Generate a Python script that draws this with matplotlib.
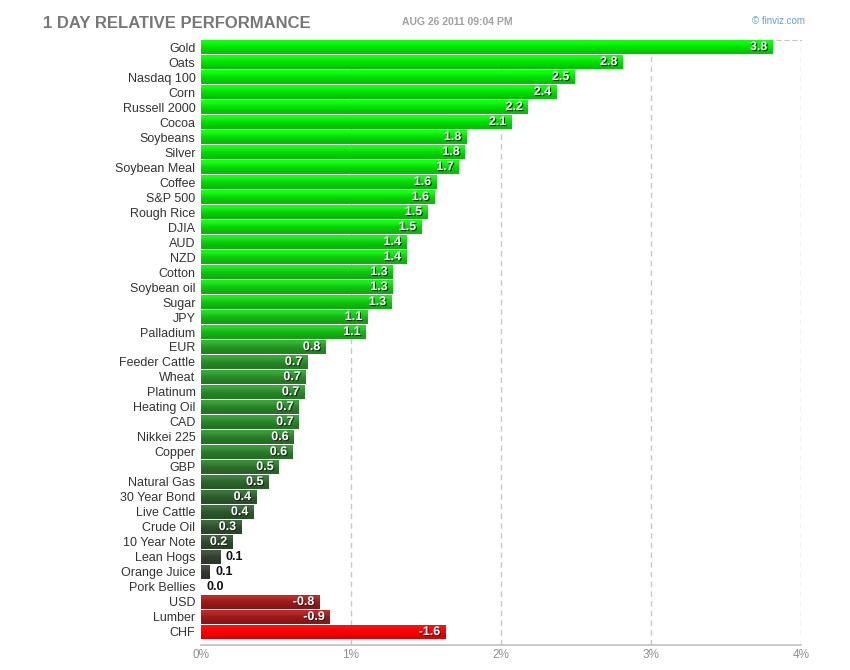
import matplotlib
matplotlib.use("Agg")
import matplotlib.pyplot as plt
import matplotlib.patheffects as pe
import numpy as np

categories = ["Gold", "Oats", "Nasdaq 100", "Corn", "Russell 2000", "Cocoa", "Soybeans",
              "Silver", "Soybean Meal", "Coffee", "S&P 500", "Rough Rice", "DJIA", "AUD",
              "NZD", "Cotton", "Soybean oil", "Sugar", "JPY", "Palladium", "EUR",
              "Feeder Cattle", "Wheat", "Platinum", "Heating Oil", "CAD", "Nikkei 225",
              "Copper", "GBP", "Natural Gas", "30 Year Bond", "Live Cattle", "Crude Oil",
              "10 Year Note", "Lean Hogs", "Orange Juice", "Pork Bellies", "USD", "Lumber", "CHF"]
values = [3.81, 2.81, 2.49, 2.37, 2.18, 2.07, 1.77, 1.76, 1.72, 1.57, 1.556, 1.51, 1.47,
          1.37, 1.37, 1.28, 1.28, 1.27, 1.11, 1.10, 0.83, 0.71, 0.70, 0.69, 0.652, 0.652,
          0.62, 0.61, 0.52, 0.452, 0.37, 0.352, 0.27, 0.21, 0.13, 0.06, 0.0,
          -0.79, -0.86, -1.63]
xticks = [0, 1, 2, 3, 4]
xtick_labels = ["0%", "1%", "2%", "3%", "4%"]

def hx(s):
    return np.array([int(s[i:i + 2], 16) for i in (1, 3, 5)]) / 255.0

pos_stops = [(0.0, "#303430"), (0.1, "#323c32"), (0.2, "#2e4a2e"), (0.4, "#2c5e2c"),
             (0.5, "#2c6c2c"), (0.7, "#288a28"), (0.85, "#229822"), (1.1, "#16b616"),
             (1.3, "#10c810"), (1.6, "#08d808"), (2.5, "#02e002"), (4.0, "#00e400")]

def bar_color(v):
    if v < 0:
        if v <= -1.2:
            return hx("#f80000")
        return hx("#9c1a1a")
    xs = [s[0] for s in pos_stops]
    cols = np.array([hx(s[1]) for s in pos_stops])
    return np.array([np.interp(v, xs, cols[:, k]) for k in range(3)])

fig = plt.figure(figsize=(8.5, 6.7), dpi=100)
ax = fig.add_axes([201 / 850, 1 - 645 / 670, 600 / 850, 605 / 670])

n = len(categories)
ypos = np.arange(n)
mags = np.abs(values)
colors = [bar_color(v) for v in values]
bars = ax.barh(ypos, mags, height=0.9, color=colors, zorder=3, linewidth=0)

# vertical gradient overlay (lighter top, darker bottom)
for b, c in zip(bars, colors):
    x0, y0 = b.get_x(), b.get_y()
    w, h = b.get_width(), b.get_height()
    if w <= 0:
        continue
    top = np.clip(c * 1.12 + 0.05, 0, 1)
    bot = np.clip(c * 0.88, 0, 1)
    grad = np.array([[top], [c], [bot]]).reshape(3, 1, 3)
    im = ax.imshow(grad, extent=(x0, x0 + w, y0 + h, y0), aspect="auto",
                   interpolation="bilinear", zorder=4)
    im.set_clip_path(b)

for i, (v, m) in enumerate(zip(values, mags)):
    lab = f"{v:.1f}"
    if m >= 0.18:
        ax.text(m - 0.035, i, lab, ha="right", va="center", color="white",
                fontsize=9, fontweight="bold", family="Liberation Sans", zorder=6,
                path_effects=[pe.withSimplePatchShadow(offset=(0.8, -0.8),
                                                       shadow_rgbFace="#222222", alpha=0.9)])
    else:
        ax.text(m + 0.035, i, lab, ha="left", va="center", color="#111111",
                fontsize=9, fontweight="bold", family="Liberation Sans", zorder=6)

ax.set_xlim(0, 4)
ax.set_ylim(39.87, -0.47)
ax.set_yticks(ypos)
ax.set_yticklabels(categories, fontsize=9, color="#333333", family="Liberation Sans")
ax.set_xticks(xticks)
ax.set_xticklabels(xtick_labels, fontsize=8.5, color="#909090", family="Liberation Sans")
ax.tick_params(axis="both", length=0)
ax.tick_params(axis="y", pad=4)
ax.tick_params(axis="x", pad=3)

for x in xticks[1:]:
    ax.axvline(x, color="#c8c8c8", linestyle=(0, (4, 3)), linewidth=1, zorder=1)
ax.spines["left"].set_visible(False)
ax.spines["right"].set_visible(False)
ax.spines["top"].set_color("#c8c8c8")
ax.spines["top"].set_linestyle((0, (4, 3)))
ax.spines["bottom"].set_color("#c0c0c0")
ax.spines["bottom"].set_linewidth(1.2)

fig.text(43 / 850, 1 - 23 / 670, "1 DAY RELATIVE PERFORMANCE", fontsize=12,
         fontweight="bold", color="#777777", family="Liberation Sans", va="center", ha="left")
fig.text(402 / 850, 1 - 22 / 670, "AUG 26 2011 09:04 PM", fontsize=7.5,
         fontweight="bold", color="#a0a0a0", family="Liberation Sans", va="center", ha="left")
fig.text(805 / 850, 1 - 21 / 670, "© finviz.com", fontsize=7, color="#6a9cd0",
         family="Liberation Sans", va="center", ha="right")

fig.savefig("out.png", dpi=100)
